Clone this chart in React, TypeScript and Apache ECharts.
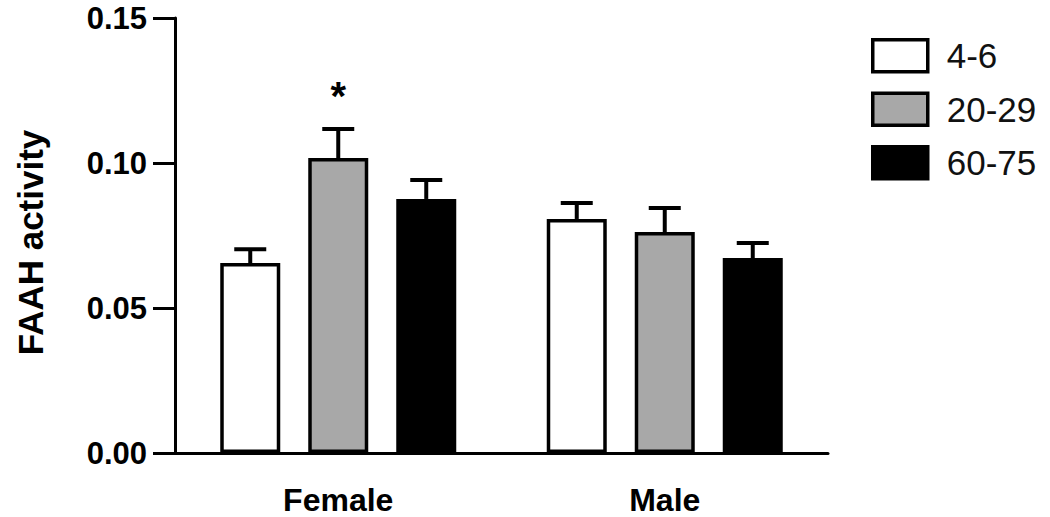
import React, { useEffect, useRef } from "react";
import * as echarts from "echarts";

const categories = ["Female", "Male"];
const groupNames = ["4-6", "20-29", "60-75"];
const mean46 = [0.0655, 0.0807];
const sem46 = [0.0048, 0.0055];
const mean2029 = [0.1017, 0.0762];
const sem2029 = [0.01, 0.0083];
const mean6075 = [0.0876, 0.0672];
const sem6075 = [0.0065, 0.0052];
const sig46 = ["", ""];
const sig2029 = ["*", ""];
const sig6075 = ["", ""];
const yTicks = { min: 0, max: 0.15, interval: 0.05 };

const FONT = "'Liberation Sans', Arial, sans-serif";
const BAR_W = 60;
const BAR_GAP = 28;
const fills = ["#ffffff", "#a8a8a8", "#000000"];

export default function App() {
  const ref = useRef<HTMLDivElement>(null);
  useEffect(() => {
    if (!ref.current) return;
    const chart = echarts.init(ref.current, null, { renderer: "svg" });
    const means = [mean46, mean2029, mean6075];
    const sems = [sem46, sem2029, sem6075];
    const sigs = [sig46, sig2029, sig6075];

    const barSeries = groupNames.map((name, i) => ({
      name,
      type: "bar",
      barWidth: BAR_W,
      barGap: (BAR_GAP / BAR_W) * 100 + "%",
      data: means[i],
      itemStyle: { color: fills[i], borderColor: "#000", borderWidth: 3.5 },
      z: 2,
    }));

    const errSeries = groupNames.map((name, i) => ({
      name: name + " SEM",
      type: "custom",
      z: 3,
      data: categories.map((_, c) => [c, means[i][c], sems[i][c]]),
      encode: { x: 0, y: 1 },
      renderItem: (params: any, api: any) => {
        const c = api.value(0);
        const m = api.value(1);
        const e = api.value(2);
        const s = sigs[i][c];
        const base = api.coord([c, m]);
        const top = api.coord([c, m + e]);
        const x = base[0] + (i - 1) * (BAR_W + BAR_GAP);
        const capHalf = 16;
        const children: any[] = [
          {
            type: "line",
            shape: { x1: x, y1: base[1], x2: x, y2: top[1] },
            style: { stroke: "#000", lineWidth: 4 },
          },
          {
            type: "line",
            shape: { x1: x - capHalf, y1: top[1], x2: x + capHalf, y2: top[1] },
            style: { stroke: "#000", lineWidth: 4 },
          },
        ];
        if (s) {
          children.push({
            type: "text",
            x,
            y: top[1] - 13,
            style: {
              text: s,
              fontSize: 40,
              fontWeight: "bold",
              fontFamily: FONT,
              fill: "#000",
              align: "center",
              verticalAlign: "bottom",
            },
          });
        }
        return { type: "group", children };
      },
    }));

    chart.setOption({
      animation: false,
      backgroundColor: "#fff",
      grid: { left: 175, right: 222, top: 18, bottom: 64 },
      legend: {
        data: groupNames,
        orient: "vertical",
        left: 866,
        top: 33,
        itemWidth: 55,
        itemHeight: 32,
        itemGap: 18,
        icon: "rect",
        textStyle: {
          fontSize: 35,
          fontFamily: FONT,
          color: "#111",
          lineHeight: 32,
          padding: [0, 0, 0, 14],
        },
        itemStyle: { borderColor: "#000", borderWidth: 3.5 },
      },
      xAxis: {
        type: "category",
        data: categories,
        axisLine: { lineStyle: { color: "#000", width: 3 } },
        axisTick: { alignWithLabel: true, length: 22, lineStyle: { color: "#000", width: 3 } },
        axisLabel: {
          margin: 32,
          fontSize: 32,
          lineHeight: 30,
          fontWeight: "bold",
          fontFamily: FONT,
          color: "#000",
        },
        splitLine: { show: false },
      },
      yAxis: {
        type: "value",
        min: yTicks.min,
        max: yTicks.max,
        interval: yTicks.interval,
        name: "FAAH activity",
        nameLocation: "middle",
        nameGap: 127,
        nameTextStyle: {
          fontSize: 35,
          fontWeight: "bold",
          fontFamily: FONT,
          color: "#000",
          padding: [0, 14, 0, 0],
        },
        axisLine: { show: true, lineStyle: { color: "#000", width: 3 } },
        axisTick: { show: true, length: 22, lineStyle: { color: "#000", width: 3 } },
        axisLabel: {
          margin: 28,
          fontSize: 31,
          fontWeight: "bold",
          fontFamily: FONT,
          color: "#000",
          formatter: (v: number) => v.toFixed(2),
        },
        splitLine: { show: false },
      },
      series: [...barSeries, ...errSeries],
    });
    return () => chart.dispose();
  }, []);
  return (
    <div
      ref={ref}
      style={{ position: "fixed", left: 0, top: 0, width: 1050, height: 517, background: "#fff" }}
    />
  );
}
